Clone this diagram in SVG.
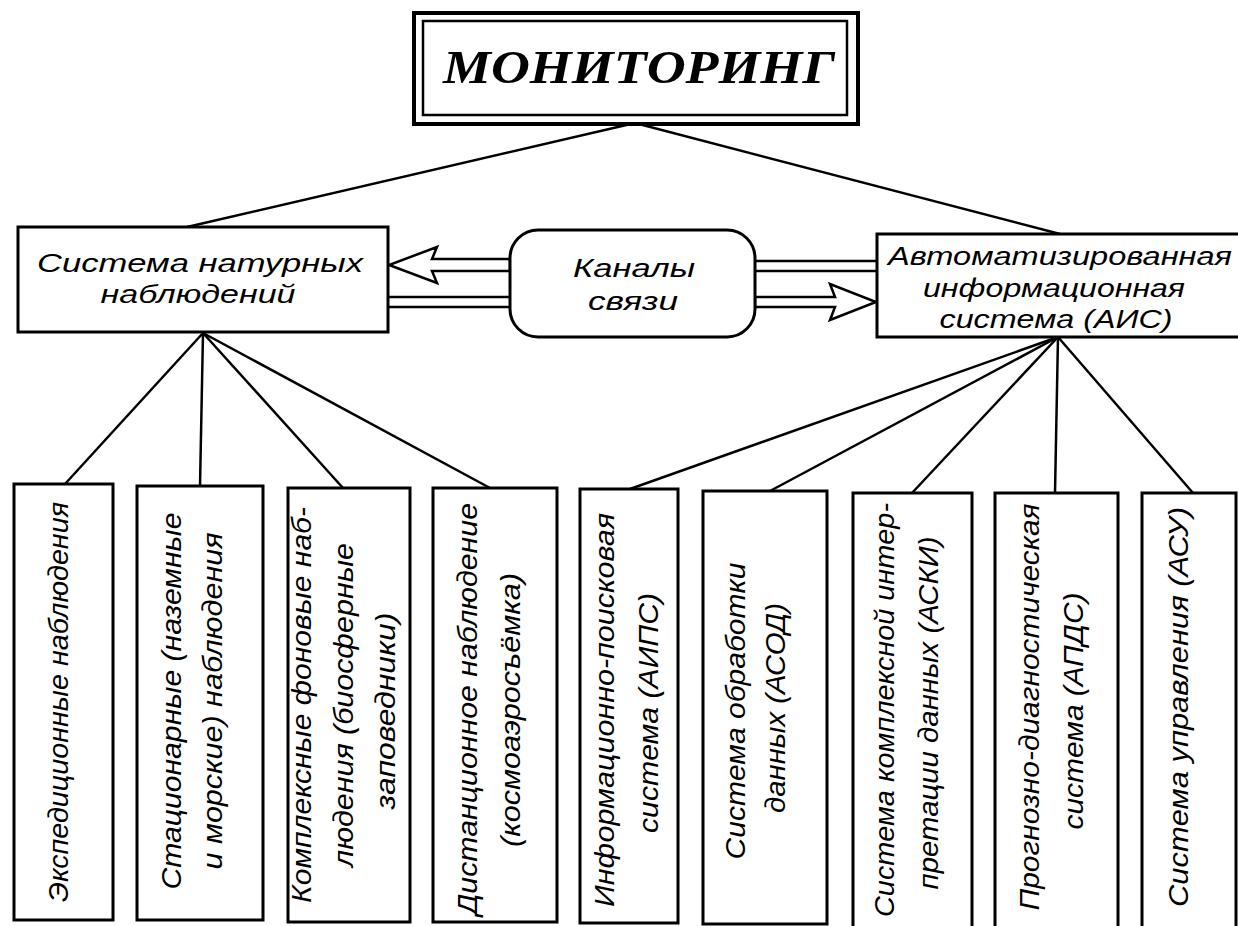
<svg xmlns="http://www.w3.org/2000/svg" width="1238" height="926" viewBox="0 0 1238 926">
<style>
.box{fill:#fff;stroke:#000;stroke-width:3}
.ln{fill:none;stroke:#000;stroke-width:2.5}
.arr{fill:#fff;stroke:#000;stroke-width:2.5;stroke-linejoin:miter}
.t{font-family:"Liberation Sans",Arial,sans-serif;font-style:italic;fill:#000;text-anchor:middle}
.top{font-size:26px}
.v{font-size:27px}
.title{font-family:"Liberation Serif","Times New Roman",serif;font-weight:bold;font-style:italic;font-size:46px;fill:#000;text-anchor:middle}
</style>
<rect width="1238" height="926" fill="#fff"/>
<g id="connectors">
<line class="ln" x1="635" y1="123" x2="187" y2="227"/>
<line class="ln" x1="635" y1="123" x2="1060" y2="234"/>
<line class="ln" x1="203" y1="333" x2="65" y2="484"/>
<line class="ln" x1="203" y1="333" x2="200" y2="486"/>
<line class="ln" x1="203" y1="333" x2="343" y2="488"/>
<line class="ln" x1="203" y1="333" x2="490" y2="488"/>
<line class="ln" x1="1058" y1="337" x2="630" y2="489"/>
<line class="ln" x1="1058" y1="337" x2="770" y2="491"/>
<line class="ln" x1="1058" y1="337" x2="912" y2="493"/>
<line class="ln" x1="1058" y1="337" x2="1055" y2="493"/>
<line class="ln" x1="1058" y1="337" x2="1193" y2="493"/>
<line class="ln" x1="388" y1="297" x2="510" y2="297"/>
<line class="ln" x1="388" y1="307" x2="510" y2="307"/>
<line class="ln" x1="755" y1="261" x2="877" y2="261"/>
<line class="ln" x1="755" y1="271" x2="877" y2="271"/>
<polygon class="arr" points="510,259 432,259 437,247 389,265 437,283 432,271 510,271"/>
<polygon class="arr" points="755,297 835,297 830,284 876,302 830,320 835,307 755,307"/>
</g>
<g id="title">
<rect x="414" y="13" width="444" height="111" fill="#fff" stroke="#000" stroke-width="4"/>
<rect x="423" y="21" width="424" height="94" fill="none" stroke="#000" stroke-width="2.5"/>
<text class="title" x="639" y="83" textLength="392" lengthAdjust="spacingAndGlyphs">МОНИТОРИНГ</text>
</g>
<g id="natural">
<rect class="box" x="18" y="227" width="370" height="105"/>
<text class="t top" x="200" y="272" textLength="326" lengthAdjust="spacingAndGlyphs">Система натурных</text>
<text class="t top" x="198" y="303" textLength="195" lengthAdjust="spacingAndGlyphs">наблюдений</text>
</g>
<g id="channels">
<rect class="box" x="510" y="230" width="245" height="107" rx="28" ry="28"/>
<text class="t top" x="634" y="277" textLength="122" lengthAdjust="spacingAndGlyphs">Каналы</text>
<text class="t top" x="633" y="310" textLength="90" lengthAdjust="spacingAndGlyphs">связи</text>
</g>
<g id="ais">
<rect class="box" x="877" y="234" width="380" height="103"/>
<text class="t top" x="1060" y="265" textLength="344" lengthAdjust="spacingAndGlyphs">Автоматизированная</text>
<text class="t top" x="1054" y="297" textLength="262" lengthAdjust="spacingAndGlyphs">информационная</text>
<text class="t top" x="1056" y="328" textLength="233" lengthAdjust="spacingAndGlyphs">система (АИС)</text>
</g>
<g id="b1">
<rect class="box" x="14" y="484" width="99" height="436"/>
<text class="t v" transform="translate(68,702) rotate(-90)" textLength="400" lengthAdjust="spacingAndGlyphs">Экспедиционные наблюдения</text>
</g>
<g id="b2">
<rect class="box" x="137" y="486" width="126" height="434"/>
<text class="t v" transform="translate(181,701) rotate(-90)" textLength="377" lengthAdjust="spacingAndGlyphs">Стационарные (наземные</text>
<text class="t v" transform="translate(222,701) rotate(-90)" textLength="337" lengthAdjust="spacingAndGlyphs">и морские) наблюдения</text>
</g>
<g id="b3">
<rect class="box" x="288" y="488" width="122" height="434"/>
<text class="t v" transform="translate(311,705) rotate(-90)" textLength="396" lengthAdjust="spacingAndGlyphs">Комплексные фоновые наб-</text>
<text class="t v" transform="translate(353,705) rotate(-90)" textLength="324" lengthAdjust="spacingAndGlyphs">людения (биосферные</text>
<text class="t v" transform="translate(395,711) rotate(-90)" textLength="197" lengthAdjust="spacingAndGlyphs">заповедники)</text>
</g>
<g id="b4">
<rect class="box" x="433" y="488" width="124" height="434"/>
<text class="t v" transform="translate(477,709) rotate(-90)" textLength="412" lengthAdjust="spacingAndGlyphs">Дистанционное наблюдение</text>
<text class="t v" transform="translate(520,710) rotate(-90)" textLength="274" lengthAdjust="spacingAndGlyphs">(космоаэросъёмка)</text>
</g>
<g id="b5">
<rect class="box" x="580" y="489" width="98" height="434"/>
<text class="t v" transform="translate(614,710) rotate(-90)" textLength="394" lengthAdjust="spacingAndGlyphs">Информационно-поисковая</text>
<text class="t v" transform="translate(658,713) rotate(-90)" textLength="240" lengthAdjust="spacingAndGlyphs">система (АИПС)</text>
</g>
<g id="b6">
<rect class="box" x="703" y="491" width="124" height="433"/>
<text class="t v" transform="translate(745,711) rotate(-90)" textLength="297" lengthAdjust="spacingAndGlyphs">Система обработки</text>
<text class="t v" transform="translate(785,708) rotate(-90)" textLength="210" lengthAdjust="spacingAndGlyphs">данных (АСОД)</text>
</g>
<g id="b7">
<rect class="box" x="853" y="493" width="119" height="440"/>
<text class="t v" transform="translate(894,710) rotate(-90)" textLength="414" lengthAdjust="spacingAndGlyphs">Система комплексной интер-</text>
<text class="t v" transform="translate(938,713) rotate(-90)" textLength="353" lengthAdjust="spacingAndGlyphs">претации данных (АСКИ)</text>
</g>
<g id="b8">
<rect class="box" x="995" y="493" width="123" height="440"/>
<text class="t v" transform="translate(1039,707) rotate(-90)" textLength="407" lengthAdjust="spacingAndGlyphs">Прогнозно-диагностическая</text>
<text class="t v" transform="translate(1083,711) rotate(-90)" textLength="237" lengthAdjust="spacingAndGlyphs">система (АПДС)</text>
</g>
<g id="b9">
<rect class="box" x="1142" y="493" width="94" height="440"/>
<text class="t v" transform="translate(1188,707) rotate(-90)" textLength="400" lengthAdjust="spacingAndGlyphs">Система управления (АСУ)</text>
</g>
</svg>
